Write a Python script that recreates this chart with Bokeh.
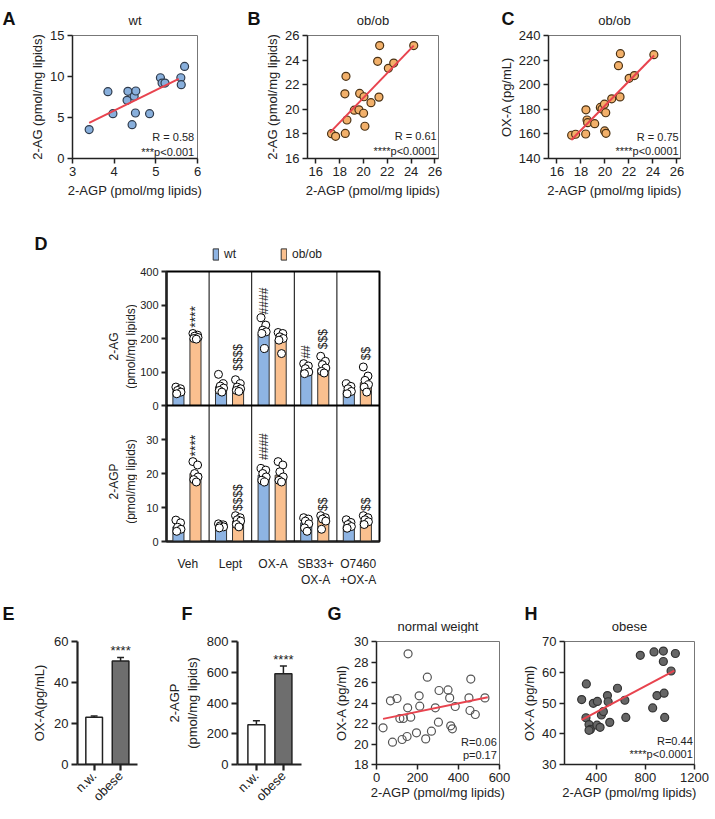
import math
from bokeh.plotting import figure
from bokeh.models import Range1d, FixedTicker, Label, Legend, LegendItem, Span
from bokeh.layouts import column, row
from bokeh.embed import file_html
from bokeh.resources import INLINE
from bokeh.core.properties import value

FONT = "Liberation Sans"
RED = "#e8434e"
BLUE = "#8eb4e3"
ORANGE = "#fac08f"
OX, OY = 1, 1          # page origin of the layout
RIGHT = 714
NAN = float("nan")

# ---------------- data ----------------
# A: wt
a_x = [3.40, 3.85, 3.97, 4.33, 4.31, 4.48, 4.52, 4.43, 4.51, 4.85, 5.11, 5.15, 5.22, 5.60, 5.61, 5.69]
a_y = [3.53, 8.15, 5.47, 8.19, 7.09, 7.58, 8.23, 4.13, 5.55, 5.47, 9.85, 9.20, 9.20, 9.85, 9.00, 11.23]
a_fit_x = [3.40, 5.55]
a_fit_y = [4.35, 9.70]
# B: ob/ob 2-AG vs 2-AGP
b_x = [17.32, 17.66, 18.53, 18.44, 18.61, 18.47, 19.23, 19.62, 19.68, 20.04, 20.01, 20.12, 20.63,
       21.19, 21.30, 21.36, 22.09, 22.54, 24.22]
b_y = [18.02, 17.80, 22.68, 21.26, 19.13, 18.04, 19.93, 19.96, 21.29, 21.02, 19.68, 18.62, 20.54,
       23.90, 20.99, 25.18, 23.33, 23.76, 25.18]
b_fit_x = [17.18, 24.22]
b_fit_y = [18.10, 25.18]
# C: ob/ob OX-A vs 2-AGP
c_x = [17.23, 17.56, 18.40, 18.42, 18.51, 18.56, 19.15, 19.62, 19.76, 19.96, 20.07, 19.98, 20.09,
       20.57, 21.13, 21.29, 21.26, 22.02, 22.46, 24.08]
c_y = [158.9, 159.7, 159.9, 179.6, 171.3, 169.1, 168.3, 181.5, 180.2, 184.2, 177.2, 162.4, 160.5,
       188.5, 215.5, 225.2, 190.1, 205.2, 207.4, 224.4]
c_fit_x = [17.20, 24.10]
c_fit_y = [155.0, 223.7]

# D
groups = ["Veh", "Lept", "OX-A", "SB33+\nOX-A", "O7460\n+OX-A"]
series = ["wt", "ob/ob"]
ag_wt_mean = [45, 56, 212, 105, 45]
ag_ob_mean = [200, 52, 195, 110, 68]
ag_wt_pts = [[55, 50, 45, 40, 35], [93, 65, 58, 52, 45, 40], [262, 240, 225, 220, 215, 170],
             [125, 118, 110, 100, 95], [65, 57, 50, 42, 35]]
ag_ob_pts = [[215, 210, 207, 203, 200, 198], [77, 65, 55, 50, 45, 42], [218, 215, 205, 200, 195, 155],
             [147, 132, 122, 112, 102, 97], [115, 88, 75, 62, 55, 40]]
agp_wt_mean = [4.3, 4.5, 19.5, 5.5, 4.6]
agp_ob_mean = [20.0, 6.0, 19.5, 6.5, 6.0]
agp_wt_pts = [[6.3, 5.5, 4.2, 3.6, 3.0], [5.2, 4.9, 4.6, 4.3, 4.0], [21.5, 21.0, 20.0, 19.0, 18.0, 17.5],
              [7.0, 6.6, 6.0, 5.2, 4.0, 3.0], [6.4, 5.6, 5.0, 4.4, 3.9]]
agp_ob_pts = [[23.5, 22.5, 20.0, 19.0, 18.2, 17.5], [7.6, 7.0, 6.4, 6.0, 5.0, 4.3],
              [23.5, 22.5, 20.5, 19.0, 18.0, 17.5], [7.6, 7.0, 6.6, 6.0, 3.6], [7.6, 7.0, 6.4, 5.8, 5.0]]
ag_ticks = [0, 100, 200, 300, 400]
agp_ticks = [0, 10, 20, 30]
ag_marks = [(0, "ob", "****", 232), (1, "ob", "$$$$", 104), (2, "wt", "####", 272),
            (3, "wt", "##", 140), (3, "ob", "$$$", 168), (4, "ob", "$$", 135)]
agp_marks = [(0, "ob", "****", 25), (1, "ob", "$$$$", 9), (2, "wt", "####", 24),
             (3, "ob", "$$", 9), (4, "ob", "$$", 9)]

# E, F
ef_cats = ["n.w.", "obese"]
e_mean = [23.0, 50.5]
e_err = [23.7, 52.2]
f_mean = [258, 590]
f_err = [285, 640]

# G: normal weight
g_x = [32, 68, 100, 78, 114, 131, 154, 152, 167, 125, 149, 195, 208, 211, 248, 240, 268, 287, 305, 302,
       349, 357, 362, 370, 384, 451, 460, 456, 482, 529]
g_y = [21.58, 24.21, 24.44, 20.18, 22.49, 22.49, 28.8, 23.53, 22.62, 20.44, 20.73, 21.09, 24.7, 23.69,
       26.52, 20.5, 21.25, 23.53, 25.22, 22.13, 25.28, 24.5, 21.77, 21.48, 23.66, 24.5, 26.33, 23.27,
       22.88, 24.5]
g_fit_x = [32, 543]
g_fit_y = [22.45, 24.57]
# H: obese
h_x = [280, 318, 315, 340, 351, 340, 375, 408, 405, 430, 441, 457, 490, 496, 509, 572, 632, 640, 758,
       859, 870, 894, 946, 946, 952, 957, 1009, 1044]
h_y = [51.1, 56.2, 45.2, 43.0, 41.4, 41.1, 49.9, 50.5, 42.8, 42.1, 46.1, 47.2, 52.4, 50.4, 43.7, 54.8,
       50.9, 45.3, 65.5, 48.4, 66.6, 52.4, 66.9, 63.5, 53.2, 45.3, 60.4, 66.1]
h_fit_x = [280, 1036]
h_fit_y = [44.5, 60.5]


# ---------------- helpers ----------------
def base_fig(fw, fh, borders, xr, yr):
    bl, bt, br, bb = borders
    p = figure(frame_width=fw, frame_height=fh, min_border_left=bl, min_border_top=bt,
               min_border_right=br, min_border_bottom=bb, x_range=xr, y_range=yr,
               output_backend="svg", toolbar_location=None, title_location=None)
    p.xgrid.visible = False
    p.ygrid.visible = False
    p.background_fill_color = "white"
    p.border_fill_color = "white"
    return p


def strip(x0, x1, y0, y1):
    """Blank figure whose data coordinates are page pixels (for panel letters, titles, legend)."""
    p = figure(frame_width=x1 - x0, frame_height=y1 - y0, x_range=Range1d(x0, x1),
               y_range=Range1d(y1, y0), min_border=0, x_axis_location=None, y_axis_location=None,
               title_location=None, toolbar_location=None, output_backend="svg")
    p.outline_line_color = None
    p.background_fill_color = "white"
    p.border_fill_color = "white"
    p.grid.visible = False
    return p


def put(p, x, y, t, size="13px", bold=False, align="left", baseline="top", angle=0.0):
    p.add_layout(Label(x=x, y=y, text=t, text_font=FONT, text_font_size=size,
                       text_font_style="bold" if bold else "normal", text_align=align,
                       text_baseline=baseline, angle=angle, text_color="#111" if bold else "#222"))


def style_axes(p, size="13px", lw=1.5, tick_out=5, label_standoff=5):
    for ax in p.axis:
        ax.axis_line_color = "#222"
        ax.axis_line_width = lw
        ax.major_tick_line_color = "#222"
        ax.major_tick_line_width = lw
        ax.major_tick_out = tick_out
        ax.major_tick_in = 0
        ax.minor_tick_line_color = None
        ax.major_label_text_font = FONT
        ax.major_label_text_font_size = size
        ax.major_label_text_color = "#222"
        ax.major_label_standoff = 3
        ax.axis_label_text_font = FONT
        ax.axis_label_text_font_size = size
        ax.axis_label_text_font_style = "normal"
        ax.axis_label_text_color = "#222"
        ax.axis_label_standoff = label_standoff


def stat_labels(p, x, ys, texts):
    for y, t in zip(ys, texts):
        p.add_layout(Label(x=x, y=y, text=t, text_font=FONT, text_font_size="11px",
                           text_align="right", text_baseline="middle", text_color="#222"))


def scatter_panel(fw, fh, borders, xr, yr, xs, ys, fx, fy, fill, line, xticks, yticks, ylab,
                  hollow=False, xstand=2):
    p = base_fig(fw, fh, borders, Range1d(*xr), Range1d(*yr))
    p.outline_line_color = "#777"
    p.outline_line_width = 1
    p.scatter(xs, ys, size=8, fill_color=None if hollow else fill, line_color=line, line_width=1.2)
    p.line(fx, fy, line_color=RED, line_width=2)
    p.xaxis.ticker = FixedTicker(ticks=xticks)
    p.yaxis.ticker = FixedTicker(ticks=yticks)
    p.xaxis.axis_label = "2-AGP (pmol/mg lipids)"
    p.yaxis.axis_label = ylab
    style_axes(p, label_standoff=2)
    p.xaxis.axis_label_standoff = xstand
    return p


# ---------------- row 1 ----------------
S1_END = 28
s1 = strip(OX, RIGHT, OY, S1_END)
put(s1, 3, 9, "A", "18px", True)
put(s1, 248, 9, "B", "18px", True)
put(s1, 502, 9, "C", "18px", True)
put(s1, 135.5, S1_END, "wt", align="center", baseline="bottom")
put(s1, 373.5, S1_END, "ob/ob", align="center", baseline="bottom")
put(s1, 615, S1_END, "ob/ob", align="center", baseline="bottom")

pA = scatter_panel(125, 123, (72, 35 - S1_END, 42, 200 - 158), (3, 6), (0, 15), a_x, a_y, a_fit_x,
                   a_fit_y, "#88afdc", "#2f3b4c", [3, 4, 5, 6], [0, 5, 10, 15], "2-AG (pmol/mg lipids)",
                   xstand=4)
stat_labels(pA, 5.92, [2.6, 0.8], ["R = 0.58", "***p<0.001"])

pB = scatter_panel(131, 123, (68, 36 - S1_END, 41, 200 - 159), (15.3, 26.3), (16, 26), b_x, b_y,
                   b_fit_x, b_fit_y, "#f2b06a", "#4a3215", [16, 18, 20, 22, 24, 26],
                   [16, 18, 20, 22, 24, 26], "2-AG (pmol/mg lipids)", xstand=4)
stat_labels(pB, 26.15, [17.83, 16.6], ["R = 0.61", "****p<0.0001"])

pC = scatter_panel(132, 123, (69, 35 - S1_END, RIGHT - 681, 200 - 158), (15.3, 26.3), (140, 240),
                   c_x, c_y, c_fit_x, c_fit_y, "#f2b06a", "#4a3215", [16, 18, 20, 22, 24, 26],
                   [140, 160, 180, 200, 220, 240], "OX-A (pg/mL)", xstand=4)
stat_labels(pC, 26.15, [157.8, 145.7], ["R = 0.75", "****p<0.0001"])

# ---------------- row 2 (D) ----------------
JIT = [-0.06, 0.05, -0.02, 0.06, -0.04, 0.02]
WT_OFF, OB_OFF, BW = 0.28, 0.68, 0.26
ng = len(groups)
H_TOP, H_BOT = 134, 136
TOP_MAX, BOT_MAX = ag_ticks[-1], 40
prim_end = BOT_MAX * (H_TOP + H_BOT) / H_BOT
SD_END = 263


def to_prim(v):
    return BOT_MAX + v / TOP_MAX * (prim_end - BOT_MAX)


sD = strip(OX, RIGHT, 200, SD_END)
put(sD, 35, 233, "D", "18px", True)
lw_r = sD.vbar(x=[NAN], top=[NAN], width=1, fill_color=BLUE, line_color="#333")
lo_r = sD.vbar(x=[NAN], top=[NAN], width=1, fill_color=ORANGE, line_color="#333")
legD = Legend(items=[LegendItem(label=series[0], renderers=[lw_r]),
                     LegendItem(label=series[1], renderers=[lo_r])],
              orientation="horizontal", location=(212, SD_END - 261), border_line_color=None,
              background_fill_alpha=0, glyph_width=7, glyph_height=14, label_height=14, spacing=36,
              label_standoff=5, padding=0, margin=0, label_text_font=FONT,
              label_text_font_size="12px", label_text_color="#222")
sD.add_layout(legD, "center")

lD = strip(OX, 138, SD_END, 591)
put(lD, 123, 271 + H_TOP / 2, "2-AG\n(pmol/mg lipids)", "12px", align="center", baseline="middle",
    angle=math.pi / 2)
put(lD, 123, 405 + H_BOT / 2, "2-AGP\n(pmol/mg lipids)", "12px", align="center", baseline="middle",
    angle=math.pi / 2)

pD = base_fig(213, H_TOP + H_BOT, (27, 271 - SD_END, 10, 50), Range1d(0, ng), Range1d(0, prim_end))
pD.extra_y_ranges = {"top": Range1d(-TOP_MAX * H_BOT / H_TOP, TOP_MAX)}
pD.outline_line_color = "black"
pD.outline_line_width = 2


def dots(pts, off):
    xs, ys = [], []
    for i, vals in enumerate(pts):
        for j, v in enumerate(vals):
            xs.append(i + off + JIT[j % len(JIT)])
            ys.append(v)
    return xs, ys


def d_half(rng, wt_mean, ob_mean, wt_pts, ob_pts, marks, fsize):
    pD.vbar(x=[i + WT_OFF for i in range(ng)], top=wt_mean, width=BW, fill_color=BLUE,
            line_color="#333", line_width=1, y_range_name=rng)
    pD.vbar(x=[i + OB_OFF for i in range(ng)], top=ob_mean, width=BW, fill_color=ORANGE,
            line_color="#333", line_width=1, y_range_name=rng)
    for pts, off in ((wt_pts, WT_OFF), (ob_pts, OB_OFF)):
        xs, ys = dots(pts, off)
        pD.scatter(xs, ys, size=8, fill_color="white", line_color="black", line_width=1,
                   y_range_name=rng)
    for g, s, t, y in marks:
        sz = "14px" if "*" in t else fsize
        pD.text([g + (WT_OFF if s == "wt" else OB_OFF)], [y], text=[t], angle=math.pi / 2,
                text_align="left", text_baseline="middle", text_font=value(FONT),
                text_font_size=sz, text_color="#222", y_range_name=rng)


d_half("top", ag_wt_mean, ag_ob_mean, ag_wt_pts, ag_ob_pts, ag_marks, "12px")
d_half("default", agp_wt_mean, agp_ob_mean, agp_wt_pts, agp_ob_pts, agp_marks, "12px")
for k in range(1, ng):
    pD.add_layout(Span(location=k, dimension="height", line_color="black", line_width=1))
pD.add_layout(Span(location=BOT_MAX, dimension="width", line_color="black", line_width=2))

yt = agp_ticks + [to_prim(v) for v in ag_ticks]
ylab = [str(v) for v in agp_ticks] + [str(v) for v in ag_ticks]
pD.yaxis.ticker = FixedTicker(ticks=yt)
pD.yaxis.major_label_overrides = dict(zip(yt, ylab))
pD.xaxis.ticker = FixedTicker(ticks=[i + 0.5 for i in range(ng)])
pD.xaxis.major_label_overrides = {i + 0.5: g for i, g in enumerate(groups)}
style_axes(pD, size="11px", lw=2.2)
pD.xaxis.major_tick_line_color = None
pD.xaxis.major_label_standoff = 10
pD.xaxis.major_label_text_font_size = "12px"

# ---------------- row 3 ----------------
S3_END = 633
s3 = strip(OX, RIGHT, 591, S3_END)
put(s3, 3, 603, "E", "18px", True)
put(s3, 182, 603, "F", "18px", True)
put(s3, 328, 603, "G", "18px", True)
put(s3, 525, 603, "H", "18px", True)
put(s3, 438.5, S3_END, "normal weight", align="center", baseline="bottom")
put(s3, 630, S3_END, "obese", align="center", baseline="bottom")
BT3 = 641 - S3_END


def bar_panel(fw, borders, xr, yr, means, errs, ylab, yticks, star_y):
    p = base_fig(fw, 123, borders, Range1d(*xr), Range1d(*yr))
    p.outline_line_color = None
    xs = [i + 0.5 for i in range(len(ef_cats))]
    p.vbar(x=xs, top=means, width=0.63, fill_color=["white", "#6e6e6e"], line_color="#222",
           line_width=1.5)
    p.segment(x0=xs, y0=means, x1=xs, y1=errs, line_color="#222", line_width=1.5)
    p.segment(x0=[x - 0.13 for x in xs], y0=errs, x1=[x + 0.13 for x in xs], y1=errs,
              line_color="#222", line_width=1.5)
    p.text([xs[1]], [star_y], text=["****"], text_align="center", text_baseline="middle",
           text_font=value(FONT), text_font_size="13px", text_color="#222")
    p.xaxis.ticker = FixedTicker(ticks=xs)
    p.xaxis.major_label_overrides = {x: c for x, c in zip(xs, ef_cats)}
    p.xaxis.major_label_orientation = math.pi / 4
    p.yaxis.ticker = FixedTicker(ticks=yticks)
    p.yaxis.axis_label = ylab
    style_axes(p, lw=2.2, tick_out=6, label_standoff=4)
    return p


pE = bar_panel(60, (77, BT3, 22, 47), (-0.13, 2.14), (0, 60), e_mean, e_err, "OX-A(pg/mL)",
               [0, 20, 40, 60], 55.5)
pF = bar_panel(64, (78, BT3, 18, 47), (-0.2, 2.17), (0, 800), f_mean, f_err,
               "2-AGP\n(pmol/mg lipids)", [0, 200, 400, 600, 800], 680)
pG = scatter_panel(123, 123, (57, BT3, 15, 47), (0, 600), (18, 30), g_x, g_y, g_fit_x, g_fit_y, None,
                   "#555", [0, 200, 400, 600], [18, 20, 22, 24, 26, 28, 30], "OX-A (pg/ml)",
                   hollow=True, xstand=0)
stat_labels(pG, 587, [20.18, 18.94], ["R=0.06", "p=0.17"])
pH = scatter_panel(130, 123, (50, BT3, RIGHT - 695, 47), (140, 1200), (30, 70), h_x, h_y, h_fit_x,
                   h_fit_y, "#666666", "#333", [400, 800, 1200], [30, 40, 50, 60, 70], "OX-A (pg/ml)",
                   xstand=0)
stat_labels(pH, 1186, [37.6, 33.5], ["R=0.44", "****p<0.0001"])

layout = column(s1, row(pA, pB, pC), sD, row(lD, pD), s3, row(pE, pF, pG, pH))
open("out.html", "w").write(file_html(layout, INLINE))
